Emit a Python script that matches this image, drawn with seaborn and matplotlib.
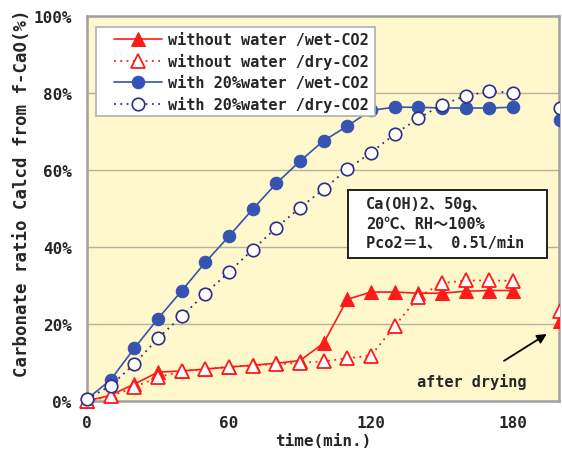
import matplotlib
matplotlib.use("Agg")
import matplotlib.pyplot as plt
from matplotlib.patches import Rectangle
import seaborn as sns
import pandas as pd

# carbonation time (min.)
time_min = [0, 10, 20, 30, 40, 50, 60, 70, 80, 90, 100, 110, 120, 130, 140, 150, 160, 170, 180]

# carbonate ratio (%) for each condition
without_water_wet = [0, 1.5, 4.4, 7.5, 7.8, 8.3, 8.8, 9.3, 9.8, 10.5, 15.0, 26.4, 28.3, 28.3, 28.0, 28.0, 28.5, 28.7, 28.7]
without_water_dry = [0, 1.2, 3.6, 6.2, 7.7, 8.3, 8.9, 9.2, 9.6, 9.9, 10.3, 11.1, 11.8, 19.4, 27.0, 30.6, 31.3, 31.3, 31.2]
water20_wet = [0.5, 5.5, 13.7, 21.4, 28.6, 36.0, 42.8, 49.8, 56.5, 62.3, 67.6, 71.4, 75.5, 76.3, 76.3, 76.1, 76.1, 76.1, 76.3]
water20_dry = [0.5, 4.0, 9.6, 16.3, 22.0, 27.9, 33.5, 39.3, 45.0, 50.2, 55.0, 60.2, 64.5, 69.3, 73.4, 76.9, 79.3, 80.4, 80.1]

# values measured after drying
dried_time = [200]
dried_without_water_wet = [20.7]
dried_without_water_dry = [23.5]
dried_water20_wet = [72.9]
dried_water20_dry = [76.0]

labels = ["without water /wet-CO2", "without water /dry-CO2",
          "with 20%water /wet-CO2", "with 20%water /dry-CO2"]
y_ticks = [0, 20, 40, 60, 80, 100]
y_tick_labels = ["0%", "20%", "40%", "60%", "80%", "100%"]
x_ticks = [0, 60, 120, 180]
x_tick_labels = ["0", "60", "120", "180"]

sns.set_style("white")
plt.rcParams["font.family"] = ["DejaVu Sans Mono", "Noto Sans CJK JP"]
plt.rcParams["font.weight"] = "bold"

RED = "#FF1A1A"
BLUE = "#3553B0"
NAVY = "#2E2E86"
GRID = "#B4B49C"
SPINE = "#A0A0A0"

fig = plt.figure(figsize=(5.62, 4.52), dpi=100)
ax = fig.add_axes([0.1548, 0.1106, 0.8399, 0.8518])
ax.set_facecolor("#FFF8CC")

styles = [
    dict(color=RED, marker="^", markersize=10, markerfacecolor=RED, markeredgecolor=RED,
         linestyle="-", linewidth=1.2),
    dict(color=RED, marker="^", markersize=10, markerfacecolor="white", markeredgecolor=RED,
         markeredgewidth=1.3, linestyle=(0, (1, 2.5)), linewidth=1.3),
    dict(color=BLUE, marker="o", markersize=9, markerfacecolor=BLUE, markeredgecolor=BLUE,
         linestyle="-", linewidth=1.2),
    dict(color=NAVY, marker="o", markersize=9, markerfacecolor="white", markeredgecolor=NAVY,
         markeredgewidth=1.2, linestyle=(0, (1, 2.5)), linewidth=1.3),
]
series = [without_water_wet, without_water_dry, water20_wet, water20_dry]
dried = [dried_without_water_wet, dried_without_water_dry, dried_water20_wet, dried_water20_dry]

for vals, lab, st in zip(series, labels, styles):
    df = pd.DataFrame({"time": time_min, "ratio": vals})
    sns.lineplot(data=df, x="time", y="ratio", ax=ax, label=lab, clip_on=False,
                 zorder=3, **st)
for vals, st in zip(dried, styles):
    df = pd.DataFrame({"time": dried_time, "ratio": vals})
    st2 = dict(st)
    st2["linestyle"] = "none"
    sns.lineplot(data=df, x="time", y="ratio", ax=ax, clip_on=True, zorder=3,
                 legend=False, **st2)

ax.set_xlim(0, 199.5)
ax.set_ylim(0, 100)
ax.set_yticks(y_ticks)
ax.set_yticklabels(y_tick_labels)
ax.set_xticks(x_ticks)
ax.set_xticklabels(x_tick_labels)
ax.tick_params(axis="x", direction="in", length=5, width=1, color=SPINE, pad=10,
               labelsize=11.5)
ax.tick_params(axis="y", direction="in", length=0, pad=11, labelsize=11.5)
for lbl in ax.get_xticklabels() + ax.get_yticklabels():
    lbl.set_fontweight("bold")

for y in y_ticks[1:-1]:
    ax.axhline(y, color=GRID, linewidth=1.0, zorder=1)

for side in ["left", "right", "top", "bottom"]:
    ax.spines[side].set_visible(True)
    ax.spines[side].set_color(SPINE)
    ax.spines[side].set_linewidth(1.8)

ax.set_xlabel("time(min.)", fontsize=11.5, fontweight="bold", labelpad=2)
ax.set_ylabel("Carbonate ratio Calcd from f-CaO(%)", fontsize=12.5, fontweight="bold")
ax.yaxis.set_label_coords(-0.1186, 0.5416)

# legend frame drawn separately so the inner padding can be set freely
ax.add_patch(Rectangle((0.019, 0.740), 0.591, 0.231, transform=ax.transAxes,
                       facecolor="white", edgecolor="#B0B0B0", linewidth=1.2, zorder=4))
leg = ax.legend(loc="upper left", bbox_to_anchor=(0.057, 0.958), borderaxespad=0,
                borderpad=0, frameon=False, fontsize=11, handlelength=3.14,
                handletextpad=0.4, labelspacing=0.39)
leg.set_zorder(5)

# experimental conditions box
ax.add_patch(Rectangle((0.553, 0.371), 0.422, 0.177, transform=ax.transAxes,
                       facecolor="white", edgecolor="#202020", linewidth=1.4, zorder=4))
cond_lines = ["Ca(OH)2、50g、", "20℃、RH～100%", "Pco2＝1、 0.5l/min"]
for line, yy in zip(cond_lines, [0.512, 0.462, 0.413]):
    ax.text(0.591, yy, line, transform=ax.transAxes, fontsize=11, fontweight="bold",
            ha="left", va="center", zorder=6)

ax.annotate("after drying", xy=(194.3, 17.4), xytext=(162.7, 5.2),
            ha="center", va="center", fontsize=11, fontweight="bold", zorder=6,
            arrowprops=dict(arrowstyle="-|>", color="black", lw=1.3, shrinkA=12,
                            shrinkB=0, mutation_scale=14))

fig.savefig("out.png", dpi=100)
